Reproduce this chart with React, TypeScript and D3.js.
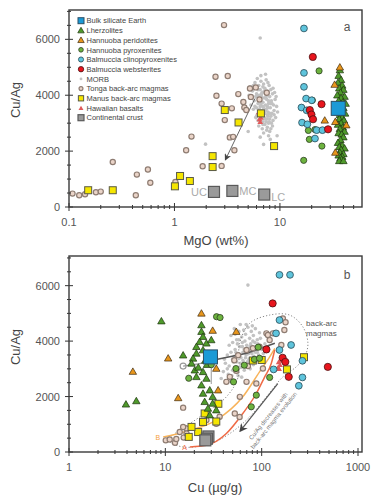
import { useEffect, useRef } from 'react'
import * as d3 from 'd3'

type P = [number, number]

// ---- panel a: MgO (wt%) vs Cu/Ag ----
const bseA: P[] = [[35.7, 3530]]
const lherzA: P[] = [
  [37, 4900], [36, 4700], [38, 4550], [35.5, 4450], [39, 4350], [36.5, 4250], [40, 4200], [37.5, 4100],
  [35, 4000], [41, 3950], [38, 3900], [36, 3800], [39.5, 3750], [42, 3700], [37, 3650], [35.5, 3600],
  [40, 3550], [38.5, 3450], [36, 3400], [41.5, 3350], [37, 3300], [39, 3200], [36.5, 3150], [40.5, 3100],
  [38, 3000], [35.5, 2950], [39.5, 2850], [37, 2800], [41, 2700], [36, 2650], [38.5, 2600], [40, 2500],
  [37.5, 2400], [35.5, 2300], [39, 2200], [36.5, 2150], [41, 2100], [38, 2050], [37, 1950], [40, 1900],
  [36, 1850], [39, 1800], [37.5, 1750], [38.5, 1700], [36.5, 1650], [40, 1650]
]
const peridA: P[] = [[37, 5000], [33, 4380], [26.6, 3100], [33.5, 3050], [42.6, 2930], [33.5, 1950]]
const pyxA: P[] = [[23.5, 4870], [20.3, 3820], [18.6, 2740], [21.5, 2770], [19, 2420], [25, 2180], [16.8, 1670]]
const cpxA: P[] = [
  [16.9, 6390], [16.9, 4800], [16.9, 4300], [17.7, 3880], [20, 3820], [16, 3560], [17.9, 3460],
  [16.2, 3020], [18.2, 2960], [22.3, 2750], [25.3, 2750], [21.5, 2450]
]
const webA: P[] = [[20.5, 5370], [24.8, 3680], [19.2, 3470], [19.9, 3310], [20.6, 3140], [28.6, 2780]]
const morbA: P[] = [
  [5.2, 4300], [5.5, 4150], [5.8, 4450], [6, 4050], [6.1, 4600], [6.3, 4350], [6.5, 4200], [6.6, 4500],
  [6.8, 4100], [7, 4400], [7.2, 4250], [7.4, 4550], [7.6, 4150], [7.9, 4350], [8.2, 4200], [8.5, 4050],
  [5.4, 3900], [5.7, 3800], [5.9, 3950], [6.2, 3700], [6.4, 3850], [6.7, 3950], [6.9, 3750], [7.1, 3900],
  [7.3, 3650], [7.5, 3850], [7.8, 3700], [8, 3950], [8.3, 3800], [8.7, 3650], [9, 3850],
  [5.6, 3500], [6, 3550], [6.3, 3400], [6.5, 3600], [6.8, 3450], [7, 3550], [7.2, 3350], [7.4, 3500],
  [7.7, 3400], [8.1, 3550], [8.4, 3350], [8.8, 3450], [9.3, 3600],
  [5.9, 3200], [6.2, 3100], [6.6, 3250], [6.9, 3050], [7.1, 3200], [7.5, 3150], [7.8, 3000], [8.2, 3250],
  [8.6, 3100], [9.1, 3200], [6.3, 2900], [6.8, 2800], [7.2, 2950], [7.6, 2850], [8, 2700], [8.5, 2900],
  [7, 2650], [7.8, 2550], [5.3, 3650], [5.1, 4000], [6.1, 3300], [6.7, 3750], [7.3, 4050], [7.7, 3250],
  [8, 3350], [6.4, 4000], [6.9, 4300], [7.6, 3600], [8.4, 3700], [8.9, 4100], [6.2, 3950], [7, 3300],
  [7.9, 3050], [6.6, 3650], [6.5, 6050], [1.97, 2250], [7, 2240], [8.1, 2420], [9.4, 2550], [6.5, 2500], [5, 2700],
  [6.7, 4050], [7.1, 4150], [7.4, 3950], [7.8, 3800], [6.5, 3750], [6.9, 3600], [7.3, 3450], [7.7, 3550],
  [8.1, 3700], [6.4, 3500], [6.8, 3350], [7.2, 3150], [7.6, 3300], [8, 3150], [7.4, 3050], [6.9, 2950],
  [7.5, 2750], [8.3, 3000], [6.2, 4200], [7.7, 4450], [8.6, 4250], [9.2, 3950], [5.6, 4350], [6.6, 4700],
  [7.3, 4750], [8.8, 3300], [9.5, 3400], [6, 3250], [5.8, 3600], [8.2, 2800]
]
const tongaA: P[] = [
  [0.108, 480], [0.125, 420], [0.142, 455], [0.18, 527], [0.2, 552], [0.26, 1610], [0.43, 420], [0.44, 1160],
  [0.56, 1340], [0.59, 870], [1.02, 896], [1.29, 2030], [1.45, 2520], [1.85, 1460], [2.45, 4660], [2.5, 3980],
  [2.8, 3700], [2.8, 1470], [2.95, 6510], [3, 3110], [3.2, 4690], [3.35, 2490], [3.6, 2510], [3.7, 2030],
  [3.5, 3530], [4.03, 4040], [4.5, 3760], [4.6, 3560], [4.8, 3470], [5.2, 4240], [5.3, 3940], [5.9, 4280],
  [6.4, 3850], [7.5, 4090]
]
const manusA: P[] = [
  [0.152, 600], [0.26, 600], [1.01, 740], [1.13, 1110], [1.4, 930], [2.3, 1820], [2.3, 1430],
  [3, 3470], [4.05, 3025], [6.6, 3350], [8.8, 2180]
]
const hawaiiA: P[] = [[6.3, 3400], [6.5, 3300], [6.6, 3200], [6.4, 3150], [6.7, 3350], [6.5, 3050]]
const crustNames = ['UC', 'MC', 'LC']
const crustA: P[] = [[2.37, 540], [3.54, 575], [7.1, 445]]
const arrowA: P[] = [[5.8, 3885], [3.05, 1700]]

// ---- panel b: Cu (ug/g) vs Cu/Ag ----
const bseB: P[] = [[29.4, 3430]]
const lherzB: P[] = [
  [9.1, 4720], [3.9, 1720], [5, 1840], [15.3, 3490], [23.7, 4580], [23.7, 4340], [24.6, 4160], [22.7, 3975],
  [26.7, 3920], [21, 3795], [24.6, 3675], [21, 3556], [30, 4040], [19.4, 3375], [18.7, 3195], [20.2, 2950],
  [24.6, 2890], [21, 2710], [26.7, 2650], [23.7, 2410], [28.9, 2230], [24.6, 2110], [31, 1990], [25.6, 1810],
  [31, 1750], [27.7, 1570], [33.8, 1510], [28.9, 1330], [26, 3300], [32, 3500], [22, 3050], [27, 3150]
]
const peridB: P[] = [[23.7, 5000], [54.5, 4340], [10.7, 3380], [4.6, 2900], [13.6, 1950], [33.8, 3010], [35.3, 2230], [31, 4380]]
const pyxB: P[] = [
  [34, 4880], [37, 4850], [17.5, 2660], [30, 3150], [54, 3010], [51, 2530], [78, 1630],
  [84, 3340], [92, 3780], [95, 3380], [66, 3130], [121, 2690], [88, 2050]
]
const cpxB: P[] = [
  [153, 6390], [197, 6390], [153, 4760], [141, 4280], [202, 3860], [153, 3680], [265, 3290],
  [133, 2980], [265, 2690], [243, 2390]
]
const webB: P[] = [[130, 5360], [165, 3400], [176, 3250], [191, 2710], [486, 3070], [112, 3700]]
const morbB: P[] = [
  [48, 4200], [52, 4450], [55, 4050], [58, 4350], [60, 4600], [62, 4150], [65, 4400], [68, 4250],
  [72, 4500], [75, 4100], [78, 4350], [82, 4200], [86, 4450], [90, 4050], [95, 4300],
  [46, 3850], [50, 3950], [53, 3700], [56, 3900], [59, 3800], [63, 3950], [66, 3700], [70, 3850],
  [73, 3650], [77, 3900], [80, 3750], [85, 3950], [89, 3700], [94, 3850], [100, 3700], [108, 3900],
  [44, 3500], [48, 3600], [52, 3450], [57, 3550], [61, 3400], [64, 3600], [69, 3500], [74, 3350],
  [79, 3550], [83, 3450], [88, 3300], [93, 3500], [99, 3400], [42, 3200], [46, 3100], [51, 3250],
  [55, 3050], [60, 3200], [66, 3100], [71, 3250], [76, 3000], [82, 3150], [40, 2900], [45, 2800],
  [50, 2950], [56, 2850], [62, 2700], [38, 2650], [47, 2550], [72, 6020],
  [58, 4050], [63, 3800], [67, 4000], [71, 3700], [76, 3800], [81, 4000], [86, 3600], [91, 3900],
  [54, 3600], [59, 3500], [64, 3300], [68, 3400], [73, 3550], [78, 3250], [84, 3350], [90, 3600],
  [50, 3350], [55, 3250], [61, 3050], [66, 2950], [44, 3000], [49, 2750], [53, 4250], [69, 4600],
  [80, 4550], [97, 4100], [104, 3550], [115, 3750], [57, 2750], [41, 3350]
]
const tongaB: P[] = [
  [10.1, 420], [11.1, 450], [12.6, 330], [13, 470], [14.1, 720], [15.5, 520], [16.6, 850], [15.3, 1600],
  [15.3, 900], [26.7, 1150], [33.8, 1020], [36.6, 1270], [52.6, 1390], [59, 1265], [59.3, 1990], [69.6, 2530],
  [43, 2530], [88, 2470], [46.7, 2710], [54.5, 2930], [72, 3100], [103, 3010], [52, 3310], [57, 3490],
  [69.6, 3680], [81, 3740], [95, 3800], [121, 4040], [112, 4280], [131, 4280], [116, 4220], [160, 3860],
  [172, 4400], [166, 4820], [177, 4680], [16.6, 670]
]
const manusB: P[] = [
  [17.5, 545], [21.9, 720], [18.7, 905], [24.6, 1085], [33.8, 1100], [25.6, 1390], [35.5, 1740],
  [81, 3300], [100, 3320], [183, 2980], [275, 3420]
]
const hawaiiB: P[] = [[150, 3250], [155, 3150], [148, 3050], [158, 3300], [152, 3000]]
const crustB: P[] = [[28, 560], [27, 480], [26, 420]]
const curveA: P[] = [[18, 180], [26.7, 240], [43, 665], [63.7, 1390], [88, 2110], [107.5, 2710], [126, 3200], [136.5, 3680]]
const curveB: P[] = [[9.5, 540], [16.6, 750], [33.8, 1150], [63.7, 1990], [95, 2890], [121, 3430], [137, 3740]]
const bseLine: P[] = [[30, 3300], [70, 3560], [137, 3920]]
const hookLine: P[] = [[15.3, 3100], [22, 3180], [29, 3260]]
const dropLine: P[] = [[30, 3300], [30, 2450]]
const envelope: P[] = [
  [11, 420], [22.7, 1265], [43, 1990], [57, 2710], [59, 3920], [75, 4640], [121, 4940], [195, 4940],
  [267, 4520], [302, 3920], [279, 3430], [228, 3070], [166, 2710], [112, 1990], [75, 1265], [46.6, 665],
  [29, 300], [15.3, 180]
]
const arrowB: P[] = [[147, 2470], [60, 760]]

const legendItems = [
  ['bse', 'Bulk silicate Earth'],
  ['lherz', 'Lherzolites'],
  ['perid', 'Hannuoba peridotites'],
  ['pyx', 'Hannuoba pyroxenites'],
  ['cpx', 'Balmuccia clinopyroxenites'],
  ['web', 'Balmuccia websterites'],
  ['morb', 'MORB'],
  ['tonga', 'Tonga back-arc magmas'],
  ['manus', 'Manus back-arc magmas'],
  ['hawaii', 'Hawaiian basalts'],
  ['crust', 'Continental crust'],
]

type Sel = d3.Selection<SVGGElement, unknown, null, undefined>

function drawMarks(g: Sel, pts: P[], kind: string, x: (v: number) => number, y: (v: number) => number, small = false) {
  const k = small ? 0.75 : 1
  const sq = (size: number, fill: string, stroke: string, sw: number) =>
    g.append('g').selectAll('rect').data(pts).join('rect')
      .attr('x', d => x(d[0]) - size / 2).attr('y', d => y(d[1]) - size / 2)
      .attr('width', size).attr('height', size)
      .attr('fill', fill).attr('stroke', stroke).attr('stroke-width', sw)
  const circ = (r: number, fill: string, stroke: string, sw: number) =>
    g.append('g').selectAll('circle').data(pts).join('circle')
      .attr('cx', d => x(d[0])).attr('cy', d => y(d[1])).attr('r', r)
      .attr('fill', fill).attr('stroke', stroke).attr('stroke-width', sw)
  const tri = (size: number, fill: string, stroke: string, sw: number) =>
    g.append('g').selectAll('path').data(pts).join('path')
      .attr('d', d3.symbol(d3.symbolTriangle, size)())
      .attr('transform', d => `translate(${x(d[0])},${y(d[1]) + 0.6})`)
      .attr('fill', fill).attr('stroke', stroke).attr('stroke-width', sw)
  switch (kind) {
    case 'bse': sq(small ? 6 : 14, '#1b9ad6', '#2b4f66', 1); break
    case 'lherz': tri(24 * k, '#4f9a2b', '#1d330f', 0.7); break
    case 'perid': tri(24 * k, '#e8961c', '#3d2a0f', 0.7); break
    case 'pyx': circ(3.1 * k, '#6db33f', '#2c3d22', 0.8); break
    case 'cpx': circ(3.4 * k, '#5ec4dc', '#2a4a55', 0.8); break
    case 'web': circ(3.6 * k, '#e8151d', '#4a1212', 0.8); break
    case 'morb': circ(small ? 1.4 : 1.8, '#c2c2c2', 'none', 0); break
    case 'tonga': circ(2.6 * k, '#ead4c8', '#8e7c72', 1.2); break
    case 'manus': sq(7 * k, '#f5e600', '#5a5a45', 1); break
    case 'hawaii': tri(14 * k, '#e05a5a', 'none', 0); break
    case 'crust': sq(small ? 6 : 11, '#9a9a9a', '#5a5a5a', 1.2); break
  }
}

function axes(g: Sel, x: d3.ScaleLogarithmic<number, number>, y: d3.ScaleLinear<number, number>, xMajors: number[], xLabels: string[]) {
  const [x0, x1] = x.range()
  const [y0, y1] = y.range()
  const tick = (ax: number, ay: number, bx: number, by: number) =>
    g.append('line').attr('x1', ax).attr('y1', ay).attr('x2', bx).attr('y2', by)
      .attr('stroke', '#333').attr('stroke-width', 1)
  const [d0, d1] = x.domain()
  xMajors.forEach(m => {
    d3.range(2, 10).forEach(i => {
      const v = m * i
      if (v > d0 && v < d1) tick(x(v), y0 - 2, x(v), y0 + 2)
    })
    tick(x(m), y0 - 4, x(m), y0 + 4)
  })
  d3.range(0, y.domain()[1], 500).forEach(v => {
    if (v % 2000 === 0) tick(x0 - 4, y(v), x0 + 4, y(v))
    else tick(x0 - 2, y(v), x0 + 2, y(v))
  })
  g.append('rect').attr('x', x0).attr('y', y1).attr('width', x1 - x0).attr('height', y0 - y1)
    .attr('fill', 'none').attr('stroke', '#3a3a3a').attr('stroke-width', 1.4)
  ;[0, 2000, 4000, 6000].forEach(v =>
    g.append('text').attr('x', x0 - 9).attr('y', y(v) + 4).attr('text-anchor', 'end')
      .attr('font-size', 11).attr('fill', '#555').text(String(v)))
  xMajors.forEach((m, i) =>
    g.append('text').attr('x', x(m)).attr('y', y0 + 19).attr('text-anchor', 'middle')
      .attr('font-size', 11).attr('fill', '#555').text(xLabels[i]))
}

export default function App() {
  const svgRef = useRef<SVGSVGElement>(null)

  useEffect(() => {
    if (!svgRef.current) return
    const svg = d3.select(svgRef.current)
    svg.selectAll('*').remove()

    const defs = svg.append('defs')
    defs.append('marker').attr('id', 'arr').attr('viewBox', '0 0 10 10').attr('refX', 8).attr('refY', 5)
      .attr('markerWidth', 7).attr('markerHeight', 7).attr('orient', 'auto-start-reverse')
      .append('path').attr('d', 'M0,0 L10,5 L0,10 L3,5 Z').attr('fill', '#444')

    // ---------------- panel a ----------------
    const ga = svg.append('g') as unknown as Sel
    const xa = d3.scaleLog().domain([0.1, 60]).range([69, 362])
    const ya = d3.scaleLinear().domain([0, 7050]).range([207, 10])
    const fa = (v: number) => xa(v)
    const fya = (v: number) => ya(v)

    drawMarks(ga, morbA, 'morb', fa, fya)
    drawMarks(ga, hawaiiA, 'hawaii', fa, fya)
    ga.append('line').attr('x1', xa(arrowA[0][0])).attr('y1', ya(arrowA[0][1]))
      .attr('x2', xa(arrowA[1][0])).attr('y2', ya(arrowA[1][1]))
      .attr('stroke', '#666').attr('stroke-width', 1).attr('marker-end', 'url(#arr)')
    drawMarks(ga, tongaA, 'tonga', fa, fya)
    drawMarks(ga, manusA, 'manus', fa, fya)
    drawMarks(ga, crustA, 'crust', fa, fya)
    crustA.forEach((c, i) => {
      const left = i === 0
      ga.append('text').attr('x', xa(c[0]) + (left ? -7 : 7)).attr('y', ya(c[1]) + 4 + (i === 2 ? 2 : 0))
        .attr('text-anchor', left ? 'end' : 'start').attr('font-size', 11).attr('fill', '#aaa')
        .text(crustNames[i])
    })
    drawMarks(ga, lherzA, 'lherz', fa, fya)
    drawMarks(ga, peridA, 'perid', fa, fya)
    drawMarks(ga, pyxA, 'pyx', fa, fya)
    drawMarks(ga, cpxA, 'cpx', fa, fya)
    drawMarks(ga, webA, 'web', fa, fya)
    drawMarks(ga, bseA, 'bse', fa, fya)
    axes(ga, xa, ya, [0.1, 1, 10], ['0.1', '1', '10'])

    // legend
    legendItems.forEach(([key, label], i) => {
      const ly = 20.7 + i * 9.7
      const lg = ga.append('g') as unknown as Sel
      drawMarks(lg, [[0, 0]], key, () => 81, () => ly, true)
      ga.append('text').attr('x', 86.5).attr('y', ly + 2.7).attr('font-size', 7.5)
        .attr('fill', '#444').text(label)
    })
    ga.append('text').attr('x', 347).attr('y', 31).attr('text-anchor', 'middle')
      .attr('font-size', 12).attr('fill', '#555').text('a')

    // ---------------- panel b ----------------
    const gb = svg.append('g') as unknown as Sel
    const xb = d3.scaleLog().domain([1, 1100]).range([69, 362])
    const yb = d3.scaleLinear().domain([0, 7070]).range([452, 256])
    const fb = (v: number) => xb(v)
    const fyb = (v: number) => yb(v)
    const plain = d3.line<P>().x(d => xb(d[0])).y(d => yb(d[1]))
    const closed = d3.line<P>().x(d => xb(d[0])).y(d => yb(d[1])).curve(d3.curveCatmullRomClosed.alpha(0.5))
    const smooth = d3.line<P>().x(d => xb(d[0])).y(d => yb(d[1])).curve(d3.curveMonotoneX)

    drawMarks(gb, morbB, 'morb', fb, fyb)
    gb.append('path').attr('d', closed(envelope))
      .attr('fill', 'none').attr('stroke', '#888').attr('stroke-width', 1).attr('stroke-dasharray', '1.2,2')
    gb.append('path').attr('d', smooth(curveB))
      .attr('fill', 'none').attr('stroke', '#f8b35a').attr('stroke-width', 1.5)
    gb.append('path').attr('d', smooth(curveA))
      .attr('fill', 'none').attr('stroke', '#ef6a45').attr('stroke-width', 1.5)
    gb.append('text').attr('x', xb(curveB[0][0]) - 3).attr('y', yb(curveB[0][1]) + 2.5)
      .attr('text-anchor', 'end').attr('font-size', 7).attr('fill', '#f5a040').text('B')
    gb.append('text').attr('x', xb(curveA[0][0]) - 3).attr('y', yb(curveA[0][1]) + 2.5)
      .attr('text-anchor', 'end').attr('font-size', 7).attr('fill', '#ef6a45').text('A')
    drawMarks(gb, hawaiiB, 'hawaii', fb, fyb)
    gb.append('path').attr('d', plain(hookLine)).attr('fill', 'none').attr('stroke', '#999').attr('stroke-width', 1.2)
    gb.append('circle').attr('cx', xb(hookLine[0][0])).attr('cy', yb(hookLine[0][1])).attr('r', 3)
      .attr('fill', 'none').attr('stroke', '#999').attr('stroke-width', 1.2)
    gb.append('path').attr('d', plain(dropLine)).attr('fill', 'none').attr('stroke', '#aaa').attr('stroke-width', 1.2)
    gb.append('path').attr('d', plain(bseLine)).attr('fill', 'none').attr('stroke', '#555').attr('stroke-width', 1.5)

    // evolution arrow + text
    const ax0 = xb(arrowB[0][0]), ay0 = yb(arrowB[0][1]), ax1 = xb(arrowB[1][0]), ay1 = yb(arrowB[1][1])
    gb.append('line').attr('x1', ax0).attr('y1', ay0).attr('x2', ax1).attr('y2', ay1)
      .attr('stroke', '#555').attr('stroke-width', 1.2).attr('marker-end', 'url(#arr)')
    const ang = Math.atan2(ay0 - ay1, ax0 - ax1) * 180 / Math.PI
    const mx = (ax0 + ax1) / 2, my = (ay0 + ay1) / 2
    ;['Cu/Ag decreases with', 'back-arc magma evolution'].forEach((t, i) => {
      const off = 10 + i * 7
      const rad = (ang + 90) * Math.PI / 180
      gb.append('text').attr('transform', `translate(${mx + Math.cos(rad) * off + 3},${my + Math.sin(rad) * off + 4}) rotate(${ang})`)
        .attr('text-anchor', 'middle').attr('font-size', 6).attr('fill', '#777').text(t)
    })

    drawMarks(gb, tongaB, 'tonga', fb, fyb)
    drawMarks(gb, manusB, 'manus', fb, fyb)
    drawMarks(gb, crustB, 'crust', fb, fyb)
    drawMarks(gb, lherzB, 'lherz', fb, fyb)
    drawMarks(gb, peridB, 'perid', fb, fyb)
    drawMarks(gb, pyxB, 'pyx', fb, fyb)
    drawMarks(gb, cpxB, 'cpx', fb, fyb)
    drawMarks(gb, webB, 'web', fb, fyb)
    drawMarks(gb, bseB, 'bse', fb, fyb)
    axes(gb, xb, yb, [1, 10, 100, 1000], ['1', '10', '100', '1000'])

    gb.append('text').attr('x', 306).attr('y', 326).attr('font-size', 8).attr('fill', '#555').text('back-arc')
    gb.append('text').attr('x', 306).attr('y', 336).attr('font-size', 8).attr('fill', '#555').text('magmas')
    gb.append('text').attr('x', 347).attr('y', 279).attr('text-anchor', 'middle')
      .attr('font-size', 12).attr('fill', '#555').text('b')

    // axis titles
    const title = (t: string, x: number, y: number, rot = false) =>
      svg.append('text').attr('transform', `translate(${x},${y})${rot ? ' rotate(-90)' : ''}`)
        .attr('text-anchor', 'middle').attr('font-size', 13).attr('fill', '#444').text(t)
    title('MgO (wt%)', 216, 245)
    title('Cu/Ag', 20, 100, true)
    title('Cu (\u00b5g/g)', 215, 492)
    title('Cu/Ag', 20, 347, true)
  }, [])

  return (
    <svg
      ref={svgRef}
      width={388}
      height={500}
      style={{ position: 'absolute', left: 0, top: 0, background: '#fff', fontFamily: 'Liberation Sans, Arial, sans-serif' }}
    />
  )
}
